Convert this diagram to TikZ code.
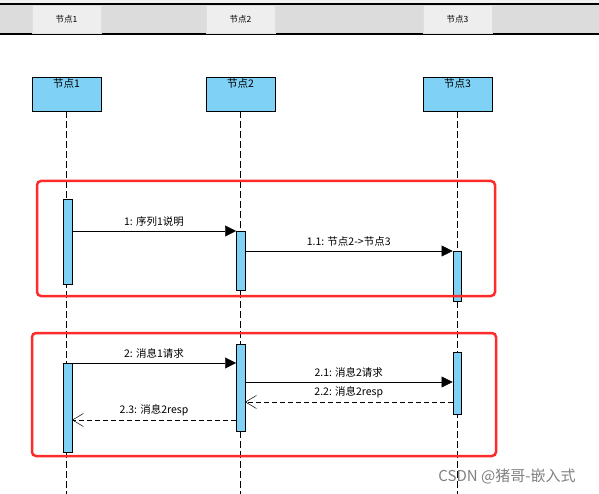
\documentclass[tikz,border=0pt]{standalone}
\usepackage{fontspec}
\setmainfont{Noto Sans CJK SC}
\usetikzlibrary{arrows.meta}
\definecolor{lifeblue}{HTML}{7FD1F5}
\definecolor{hdrgray}{HTML}{DCDCDC}
\definecolor{tabgray}{HTML}{EEEEEE}
\definecolor{markred}{HTML}{FF2A2A}
\tikzset{
  head/.style={draw,fill=lifeblue,minimum width=69pt,minimum height=34pt,anchor=north,
    inner ysep=1pt,text height=9pt,text depth=22pt,font=\fontsize{10.5}{12}\selectfont},
  tab/.style={draw=white!75!gray,fill=tabgray,minimum width=69pt,minimum height=28pt,
    font=\fontsize{8.5}{10}\selectfont},
  life/.style={thin,dash pattern=on 7pt off 3pt},
  act/.style={draw,fill=lifeblue,minimum width=8.5pt,anchor=north,inner sep=0pt},
  call/.style={thin,-{Triangle[length=11pt,width=11pt]}},
  reply/.style={thin,dash pattern=on 5pt off 3pt,-{Straight Barb[length=11pt,width=13pt,line width=0.5pt]}},
  msglbl/.style={font=\fontsize{10.5}{12}\selectfont,inner sep=1pt},
  frame/.style={draw=markred,line width=2.5pt,rounded corners=4pt}
}
\begin{document}
\begin{tikzpicture}[x=1pt,y=-1pt]
  \useasboundingbox (0,0) rectangle (599,494);
  % header bar
  \fill[black!5] (0,0) rectangle (599,4);
  \fill[hdrgray] (0,4) rectangle (599,34);
  \draw[line width=1.2pt] (0,4) -- (599,4) (0,34) -- (599,34);
  \node[tab] (t1) at (66.5,19) {节点1};
  \node[tab] (t2) at (240.5,19) {节点2};
  \node[tab] (t3) at (457.5,19) {节点3};
  % lifeline heads
  \node[head] (h1) at (66.5,77) {节点1};
  \node[head] (h2) at (240.5,77) {节点2};
  \node[head] (h3) at (457.5,77) {节点3};
  \coordinate (e1) at (66.5,494);
  \coordinate (e2) at (240.5,494);
  \coordinate (e3) at (457.5,494);
  \draw[life] (h1.south) -- (e1);
  \draw[life] (h2.south) -- (e2);
  \draw[life] (h3.south) -- (e3);
  % activations
  \node[act,minimum height=85pt] (a11) at (67.5,199) {};
  \node[act,minimum height=59pt] (a21) at (240.5,231) {};
  \node[act,minimum height=50pt] (a31) at (457,251) {};
  \node[act,minimum height=87pt] (a22) at (240.5,344) {};
  \node[act,minimum height=89pt] (a12) at (67.5,363) {};
  \node[act,minimum height=62pt] (a32) at (457,352) {};
  % group 1
  \draw[call] (a11.east |- a21.north) -- (a21.north west)
    node[msglbl,midway,above=3pt] (m1) {1: 序列1说明};
  \draw[call] (a21.east |- a31.north) -- (a31.north west)
    node[msglbl,midway,above=3pt] (m11) {1.1: 节点2->节点3};
  % group 2
  \draw[call] (a12.north east) -- (a12.north east -| a22.west)
    node[msglbl,midway,above=3pt] (m2) {2: 消息1请求};
  \coordinate (p21) at (a22.east |- 0,382);
  \coordinate (p22) at (a32.west |- 0,402);
  \coordinate (p23) at (a22.west |- 0,420);
  \draw[call] (p21) -- (p21 -| a32.west)
    node[msglbl,midway,above=3pt] (m21) {2.1: 消息2请求};
  \draw[reply] (p22) -- (p22 -| a22.east)
    node[msglbl,midway,above=3pt] (m22) {2.2: 消息2resp};
  \draw[reply] (p23) -- (p23 -| a12.east)
    node[msglbl,midway,above=3pt] (m23) {2.3: 消息2resp};
  % red frames
  \draw[frame] (37,181) rectangle (495,296);
  \draw[frame] (32,333) rectangle (496,456);
  \node[gray,font=\fontsize{15}{17}\selectfont] (wm) at (507,476) {CSDN @猪哥-嵌入式};
\end{tikzpicture}
\end{document}
